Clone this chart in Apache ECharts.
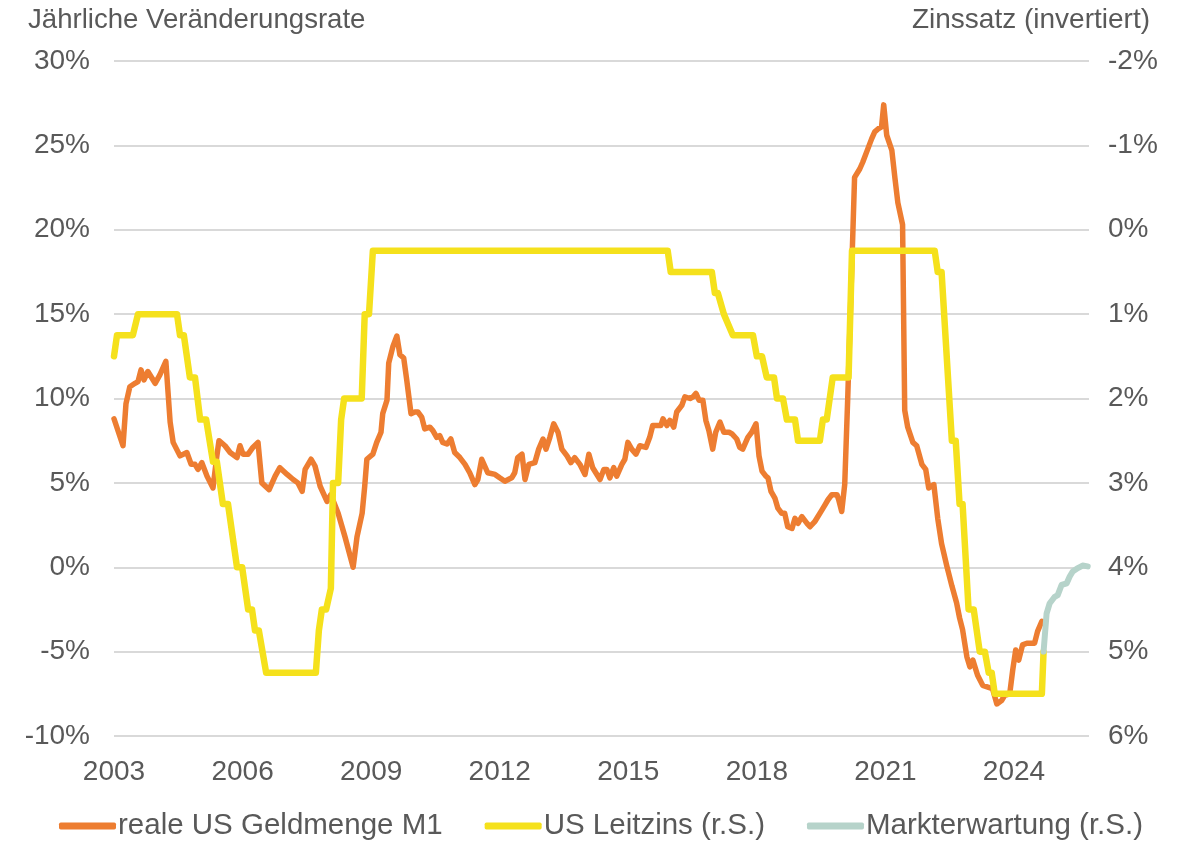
<!DOCTYPE html>
<html>
<head>
<meta charset="utf-8">
<script src="https://cdn.jsdelivr.net/npm/echarts@6/dist/echarts.min.js"></script>
<style>
  html, body { margin: 0; padding: 0; background: #fff; }
  #chart { width: 1188px; height: 843px; }
</style>
</head>
<body>
<div id="chart"></div>
<script>
// reale US Geldmenge M1, Veraenderung ggue. Vorjahr in % (linke Achse)
const m1Time = [2003.0, 2003.21, 2003.28, 2003.37, 2003.49, 2003.56, 2003.63, 2003.70, 2003.79, 2003.96,
  2004.07, 2004.21, 2004.31, 2004.38, 2004.54, 2004.70, 2004.80, 2004.89, 2004.96, 2005.05,
  2005.17, 2005.31, 2005.40, 2005.45, 2005.59, 2005.71, 2005.87, 2005.94, 2006.01, 2006.13,
  2006.24, 2006.36, 2006.45, 2006.62, 2006.76, 2006.87, 2007.04, 2007.18, 2007.29, 2007.39,
  2007.46, 2007.60, 2007.69, 2007.81, 2007.97, 2008.06, 2008.23, 2008.39, 2008.58, 2008.67,
  2008.79, 2008.85, 2008.90, 2009.04, 2009.13, 2009.23, 2009.27, 2009.37, 2009.41, 2009.51,
  2009.60, 2009.67, 2009.76, 2009.83, 2009.93, 2010.02, 2010.09, 2010.18, 2010.25, 2010.37,
  2010.44, 2010.53, 2010.60, 2010.67, 2010.77, 2010.86, 2010.95, 2011.07, 2011.19, 2011.30,
  2011.42, 2011.49, 2011.58, 2011.72, 2011.89, 2012.00, 2012.12, 2012.28, 2012.35, 2012.42,
  2012.52, 2012.59, 2012.68, 2012.82, 2012.91, 2013.01, 2013.08, 2013.17, 2013.26, 2013.36,
  2013.45, 2013.57, 2013.66, 2013.75, 2013.87, 2013.99, 2014.08, 2014.17, 2014.34, 2014.43,
  2014.50, 2014.57, 2014.66, 2014.73, 2014.85, 2014.92, 2014.99, 2015.08, 2015.18, 2015.27,
  2015.41, 2015.50, 2015.57, 2015.67, 2015.76, 2015.81, 2015.90, 2015.97, 2016.06, 2016.13,
  2016.25, 2016.32, 2016.44, 2016.51, 2016.58, 2016.65, 2016.74, 2016.81, 2016.88, 2016.97,
  2017.04, 2017.14, 2017.23, 2017.35, 2017.42, 2017.53, 2017.60, 2017.67, 2017.79, 2017.88,
  2017.98, 2018.05, 2018.12, 2018.21, 2018.26, 2018.33, 2018.42, 2018.49, 2018.58, 2018.65,
  2018.72, 2018.82, 2018.89, 2018.96, 2019.05, 2019.17, 2019.24, 2019.35, 2019.52, 2019.59,
  2019.66, 2019.75, 2019.87, 2019.91, 2019.98, 2020.05, 2020.12, 2020.28, 2020.40, 2020.47,
  2020.56, 2020.68, 2020.75, 2020.84, 2020.91, 2020.96, 2021.03, 2021.15, 2021.22, 2021.29,
  2021.40, 2021.45, 2021.52, 2021.64, 2021.73, 2021.85, 2021.94, 2022.01, 2022.13, 2022.22,
  2022.31, 2022.43, 2022.55, 2022.66, 2022.73, 2022.80, 2022.90, 2022.97, 2023.04, 2023.15,
  2023.27, 2023.39, 2023.50, 2023.60, 2023.71, 2023.78, 2023.90, 2023.97, 2024.04, 2024.11,
  2024.20, 2024.30, 2024.41, 2024.48, 2024.55, 2024.65]
const m1Rate = [8.8, 7.2, 9.7, 10.7, 10.9, 11.0, 11.7, 11.1, 11.6, 10.9,
  11.4, 12.2, 8.6, 7.4, 6.6, 6.8, 6.1, 6.1, 5.8, 6.2,
  5.4, 4.7, 6.6, 7.5, 7.2, 6.8, 6.5, 7.2, 6.7, 6.7,
  7.1, 7.4, 5.0, 4.6, 5.4, 5.9, 5.5, 5.2, 5.0, 4.5,
  5.8, 6.4, 6.0, 4.8, 3.9, 4.3, 3.2, 1.8, 0.0, 1.8,
  3.2, 4.8, 6.4, 6.7, 7.4, 8.0, 9.1, 9.9, 12.1, 13.1,
  13.7, 12.6, 12.4, 11.1, 9.1, 9.2, 9.2, 8.9, 8.2, 8.3,
  8.1, 7.7, 7.8, 7.4, 7.3, 7.6, 6.8, 6.5, 6.1, 5.6,
  4.9, 5.2, 6.4, 5.6, 5.5, 5.3, 5.1, 5.3, 5.6, 6.5,
  6.7, 5.2, 6.1, 6.2, 7.0, 7.6, 7.0, 7.7, 8.5, 8.0,
  7.0, 6.6, 6.2, 6.5, 6.1, 5.5, 6.7, 5.9, 5.2, 5.8,
  5.8, 5.3, 5.9, 5.4, 6.1, 6.4, 7.4, 7.0, 6.7, 7.2,
  7.1, 7.7, 8.4, 8.4, 8.4, 8.8, 8.4, 8.7, 8.3, 9.2,
  9.6, 10.1, 10.0, 10.1, 10.3, 9.9, 9.9, 8.7, 8.1, 7.0,
  8.0, 8.6, 8.0, 8.0, 7.9, 7.6, 7.1, 7.0, 7.7, 8.0,
  8.5, 6.6, 5.7, 5.4, 5.3, 4.5, 4.1, 3.5, 3.2, 3.2,
  2.4, 2.3, 2.9, 2.6, 3.0, 2.6, 2.4, 2.7, 3.4, 3.7,
  4.0, 4.3, 4.3, 4.0, 3.3, 4.9, 10.0, 23.1, 23.6, 24.0,
  24.6, 25.4, 25.8, 26.0, 26.1, 27.4, 25.6, 24.7, 23.1, 21.6,
  20.3, 9.3, 8.3, 7.4, 7.2, 6.1, 5.8, 4.7, 4.9, 2.9,
  1.4, 0.1, -1.1, -2.1, -3.0, -3.7, -5.3, -5.9, -5.5, -6.4,
  -7.0, -7.1, -7.2, -8.1, -7.9, -7.6, -7.5, -6.1, -4.9, -5.5,
  -4.6, -4.5, -4.5, -4.5, -3.8, -3.2]

// US Leitzins in % (rechte Achse, invertiert)
const fedTime = [2003.0, 2003.07, 2003.44, 2003.56, 2004.47, 2004.54, 2004.63, 2004.77, 2004.89, 2005.01,
  2005.15, 2005.31, 2005.40, 2005.54, 2005.66, 2005.87, 2005.99, 2006.13, 2006.22, 2006.29,
  2006.38, 2006.55, 2007.71, 2007.78, 2007.85, 2007.95, 2008.06, 2008.11, 2008.23, 2008.30,
  2008.37, 2008.78, 2008.85, 2008.95, 2009.04, 2015.92, 2015.99, 2016.95, 2017.02, 2017.09,
  2017.23, 2017.44, 2017.91, 2018.00, 2018.12, 2018.23, 2018.40, 2018.47, 2018.61, 2018.70,
  2018.89, 2018.96, 2019.47, 2019.54, 2019.63, 2019.77, 2020.14, 2020.22, 2022.15, 2022.22,
  2022.31, 2022.55, 2022.64, 2022.73, 2022.80, 2022.94, 2023.06, 2023.20, 2023.32, 2023.41,
  2023.48, 2023.55, 2024.65, 2024.69]
const fedRate = [1.5, 1.25, 1.25, 1.0, 1.0, 1.25, 1.25, 1.75, 1.75, 2.25,
  2.25, 2.75, 2.75, 3.25, 3.25, 4.0, 4.0, 4.5, 4.5, 4.75,
  4.75, 5.25, 5.25, 4.75, 4.5, 4.5, 4.25, 3.0, 3.0, 2.25,
  2.0, 2.0, 1.0, 1.0, 0.25, 0.25, 0.5, 0.5, 0.75, 0.75,
  1.0, 1.25, 1.25, 1.5, 1.5, 1.75, 1.75, 2.0, 2.0, 2.25,
  2.25, 2.5, 2.5, 2.25, 2.25, 1.75, 1.75, 0.25, 0.25, 0.5,
  0.5, 2.5, 2.5, 3.25, 3.25, 4.5, 4.5, 5.0, 5.0, 5.25,
  5.25, 5.5, 5.5, 5.0]

// Markterwartung in % (rechte Achse, invertiert)
const expTime = [2024.69, 2024.76, 2024.83, 2024.95, 2025.02, 2025.11, 2025.23, 2025.30, 2025.37, 2025.49, 2025.60, 2025.72]
const expRate = [5.0, 4.55, 4.43, 4.35, 4.33, 4.21, 4.19, 4.11, 4.05, 4.01, 3.98, 3.99]

const leftTicks = { min: -10, max: 30, step: 5 }
const rightTicks = { min: -2, max: 6, step: 1 }

function pairs(t, v) {
    return t.map((x, i) => [x, v[i]])
}

let chart = echarts.init(document.querySelector('#chart'), null, { renderer: 'canvas' })
const textColor = '#595959'
const font = 'Liberation Sans, Arial, sans-serif'

let option = {
    animation: false,
    backgroundColor: '#ffffff',
    textStyle: { fontFamily: font, color: textColor },
    grid: { left: 114, right: 99, top: 61, bottom: 107, containLabel: false },
    graphic: [
        { type: 'text', left: 28, top: 6, style: { text: 'Jährliche Veränderungsrate', font: '27.6px ' + font, fill: textColor } },
        { type: 'text', right: 38, top: 6, style: { text: 'Zinssatz (invertiert)', font: '28px ' + font, fill: textColor } }
    ],
    legend: {
        left: 59,
        top: 811,
        padding: 0,
        itemWidth: 57,
        itemHeight: 7,
        itemGap: 42,
        icon: 'roundRect',
        textStyle: { fontSize: 29.5, color: textColor, fontFamily: font, padding: [0, 0, 0, -3] },
        data: ['reale US Geldmenge M1', 'US Leitzins (r.S.)', 'Markterwartung (r.S.)']
    },
    xAxis: {
        type: 'value',
        min: 2003,
        max: 2025.75,
        interval: 3,
        axisLine: { show: false },
        axisTick: { show: false },
        splitLine: { show: false },
        axisLabel: {
            fontSize: 28, color: textColor, margin: 22, showMaxLabel: false,
            formatter: v => String(v)
        }
    },
    yAxis: [
        {
            type: 'value',
            min: leftTicks.min, max: leftTicks.max, interval: leftTicks.step,
            axisLine: { show: false },
            axisTick: { show: false },
            splitLine: { lineStyle: { color: '#D9D9D9', width: 2 } },
            axisLabel: { fontSize: 28, color: textColor, margin: 24, formatter: '{value}%' }
        },
        {
            type: 'value',
            inverse: true,
            min: rightTicks.min, max: rightTicks.max, interval: rightTicks.step,
            axisLine: { show: false },
            axisTick: { show: false },
            splitLine: { show: false },
            axisLabel: { fontSize: 28, color: textColor, margin: 19, formatter: '{value}%' }
        }
    ],
    series: [
        {
            name: 'reale US Geldmenge M1',
            type: 'line',
            yAxisIndex: 0,
            data: pairs(m1Time, m1Rate),
            showSymbol: false,
            color: '#ED7D31',
            lineStyle: { width: 5.5, color: '#ED7D31', cap: 'round', join: 'round' }
        },
        {
            name: 'US Leitzins (r.S.)',
            type: 'line',
            yAxisIndex: 1,
            data: pairs(fedTime, fedRate),
            showSymbol: false,
            color: '#F5E11C',
            lineStyle: { width: 6.5, color: '#F5E11C', cap: 'round', join: 'round' }
        },
        {
            name: 'Markterwartung (r.S.)',
            type: 'line',
            yAxisIndex: 1,
            data: pairs(expTime, expRate),
            showSymbol: false,
            color: '#B6D3CA',
            lineStyle: { width: 6, color: '#B6D3CA', cap: 'round', join: 'round' }
        }
    ]
}

chart.setOption(option)
window.onresize = function () {
    chart.resize()
}
</script>
</body>
</html>
